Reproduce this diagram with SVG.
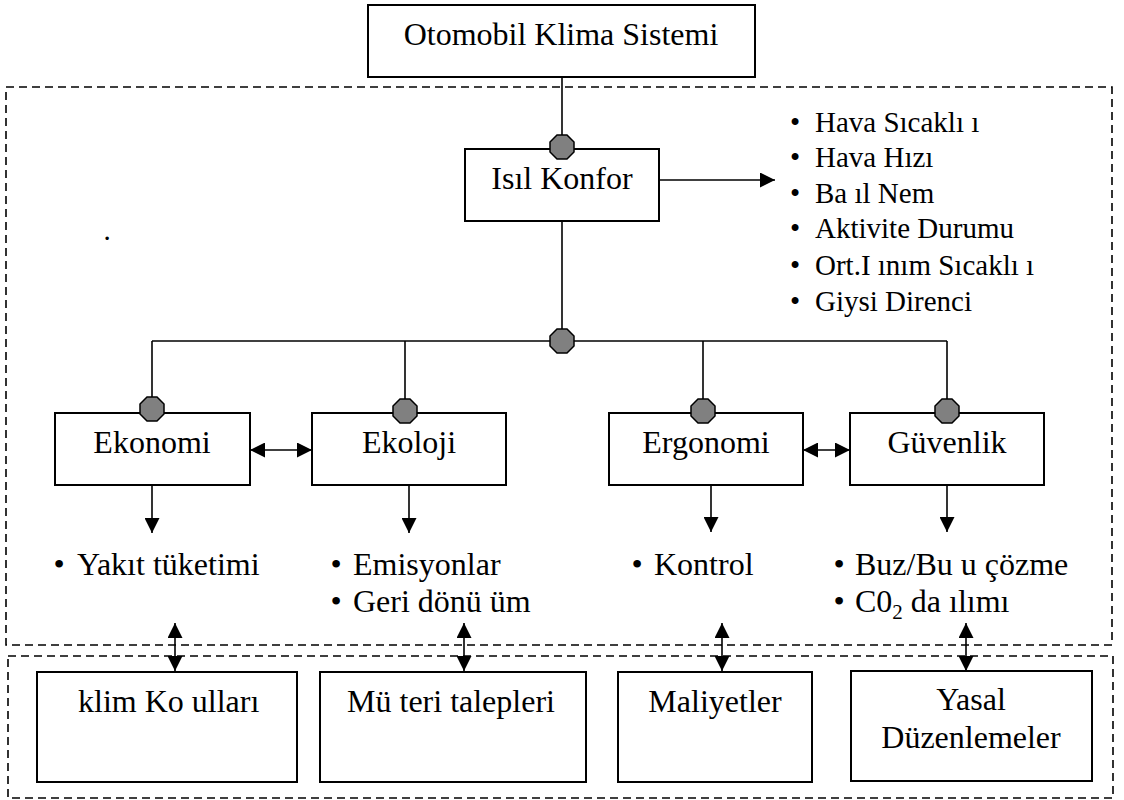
<svg xmlns="http://www.w3.org/2000/svg" xmlns:xlink="http://www.w3.org/1999/xlink" width="1124" height="800" viewBox="0 0 1124 800">
<style>
text { font-family: "Liberation Serif", "DejaVu Serif", serif; fill: #000; }
.lbl { font-size: 32px; }
.lst { font-size: 29px; }
.box { fill: #fff; stroke: #000; stroke-width: 2; }
.ln { fill: none; stroke: #000; stroke-width: 1.6; }
.dash { fill: none; stroke: #000; stroke-width: 1.6; stroke-dasharray: 8 5; }
.oct { fill: #808080; stroke: #000; stroke-width: 1.5; }
</style>
<defs>
<marker id="ah" viewBox="0 0 10 10" refX="10" refY="5" markerWidth="15" markerHeight="15" markerUnits="userSpaceOnUse" orient="auto-start-reverse">
<path d="M0,0 L10,5 L0,10 z" fill="#000"/>
</marker>
<polygon id="octShape" points="-5,-12 5,-12 12,-5 12,5 5,12 -5,12 -12,5 -12,-5"/>
</defs>
<rect width="1124" height="800" fill="#fff"/>

<g id="frames">
<rect class="dash" x="6" y="87" width="1106" height="558"/>
<rect class="dash" x="8" y="656" width="1105" height="142"/>
</g>

<g id="connectors">
<line class="ln" x1="562" y1="77" x2="562" y2="147"/>
<line class="ln" x1="562" y1="221" x2="562" y2="341"/>
<line class="ln" x1="659" y1="180" x2="775" y2="180" marker-end="url(#ah)"/>
<line class="ln" x1="152" y1="341" x2="947" y2="341"/>
<line class="ln" x1="152" y1="341" x2="152" y2="409"/>
<line class="ln" x1="405" y1="341" x2="405" y2="411"/>
<line class="ln" x1="703" y1="341" x2="703" y2="411"/>
<line class="ln" x1="947" y1="341" x2="947" y2="411"/>
<line class="ln" x1="250" y1="450" x2="312" y2="450" marker-start="url(#ah)" marker-end="url(#ah)"/>
<line class="ln" x1="803" y1="450" x2="850" y2="450" marker-start="url(#ah)" marker-end="url(#ah)"/>
<line class="ln" x1="152" y1="485" x2="152" y2="533" marker-end="url(#ah)"/>
<line class="ln" x1="409" y1="485" x2="409" y2="533" marker-end="url(#ah)"/>
<line class="ln" x1="711" y1="485" x2="711" y2="532" marker-end="url(#ah)"/>
<line class="ln" x1="947" y1="485" x2="947" y2="532" marker-end="url(#ah)"/>
<line class="ln" x1="175" y1="623" x2="175" y2="671" marker-start="url(#ah)" marker-end="url(#ah)"/>
<line class="ln" x1="464" y1="623" x2="464" y2="671" marker-start="url(#ah)" marker-end="url(#ah)"/>
<line class="ln" x1="722" y1="623" x2="722" y2="671" marker-start="url(#ah)" marker-end="url(#ah)"/>
<line class="ln" x1="966" y1="623" x2="966" y2="671" marker-start="url(#ah)" marker-end="url(#ah)"/>
</g>

<g id="node-otomobil">
<rect class="box" x="368" y="5" width="387" height="72"/>
<text class="lbl" x="561" y="45" text-anchor="middle">Otomobil Klima Sistemi</text>
</g>

<g id="node-isil-konfor">
<rect class="box" x="465" y="149" width="194" height="72"/>
<text class="lbl" x="562" y="189" text-anchor="middle">Isıl Konfor</text>
</g>

<g id="node-konfor-list">
<text class="lst" x="790" y="132">•<tspan x="815">Hava Sıcaklı ı</tspan></text>
<text class="lst" x="790" y="167">•<tspan x="815">Hava Hızı</tspan></text>
<text class="lst" x="790" y="203">•<tspan x="815">Ba ıl Nem</tspan></text>
<text class="lst" x="790" y="238">•<tspan x="815">Aktivite Durumu</tspan></text>
<text class="lst" x="790" y="275">•<tspan x="815">Ort.I ınım Sıcaklı ı</tspan></text>
<text class="lst" x="790" y="311">•<tspan x="815">Giysi Direnci</tspan></text>
</g>

<g id="stray-dot">
<text class="lst" x="103.5" y="240">.</text>
</g>

<g id="node-ekonomi">
<rect class="box" x="55" y="413" width="195" height="72"/>
<text class="lbl" x="152" y="453" text-anchor="middle">Ekonomi</text>
</g>
<g id="node-ekoloji">
<rect class="box" x="312" y="413" width="194" height="72"/>
<text class="lbl" x="409" y="453" text-anchor="middle">Ekoloji</text>
</g>
<g id="node-ergonomi">
<rect class="box" x="609" y="413" width="194" height="72"/>
<text class="lbl" x="706" y="453" text-anchor="middle">Ergonomi</text>
</g>
<g id="node-guvenlik">
<rect class="box" x="850" y="413" width="194" height="72"/>
<text class="lbl" x="947" y="453" text-anchor="middle">Güvenlik</text>
</g>

<g id="junctions">
<use href="#octShape" class="oct" x="562" y="147"/>
<use href="#octShape" class="oct" x="562" y="341"/>
<use href="#octShape" class="oct" x="152" y="409"/>
<use href="#octShape" class="oct" x="405" y="411"/>
<use href="#octShape" class="oct" x="703" y="411"/>
<use href="#octShape" class="oct" x="947" y="411"/>
</g>

<g id="list-ekonomi">
<text class="lbl" x="53.5" y="575">•<tspan x="77">Yakıt tüketimi</tspan></text>
</g>
<g id="list-ekoloji">
<text class="lbl" x="330.5" y="575">•<tspan x="353">Emisyonlar</tspan></text>
<text class="lbl" x="330.5" y="612">•<tspan x="353">Geri dönü üm</tspan></text>
</g>
<g id="list-ergonomi">
<text class="lbl" x="631.5" y="575">•<tspan x="654">Kontrol</tspan></text>
</g>
<g id="list-guvenlik">
<text class="lbl" x="833.5" y="575">•<tspan x="855">Buz/Bu u çözme</tspan></text>
<text class="lbl" x="833.5" y="612">•<tspan x="855">C0</tspan><tspan font-size="21" dy="7">2</tspan><tspan dy="-7"> da ılımı</tspan></text>
</g>

<g id="node-iklim">
<rect class="box" x="37" y="672" width="260" height="110"/>
<text class="lbl" x="78" y="712">klim Ko ulları</text>
</g>
<g id="node-musteri">
<rect class="box" x="320" y="672" width="266" height="110"/>
<text class="lbl" x="451" y="712" text-anchor="middle">Mü teri talepleri</text>
</g>
<g id="node-maliyetler">
<rect class="box" x="618" y="672" width="194" height="110"/>
<text class="lbl" x="715" y="712" text-anchor="middle">Maliyetler</text>
</g>
<g id="node-yasal">
<rect class="box" x="851" y="671" width="241" height="110"/>
<text class="lbl" x="971" y="710" text-anchor="middle">Yasal</text>
<text class="lbl" x="971" y="748" text-anchor="middle">Düzenlemeler</text>
</g>
</svg>
